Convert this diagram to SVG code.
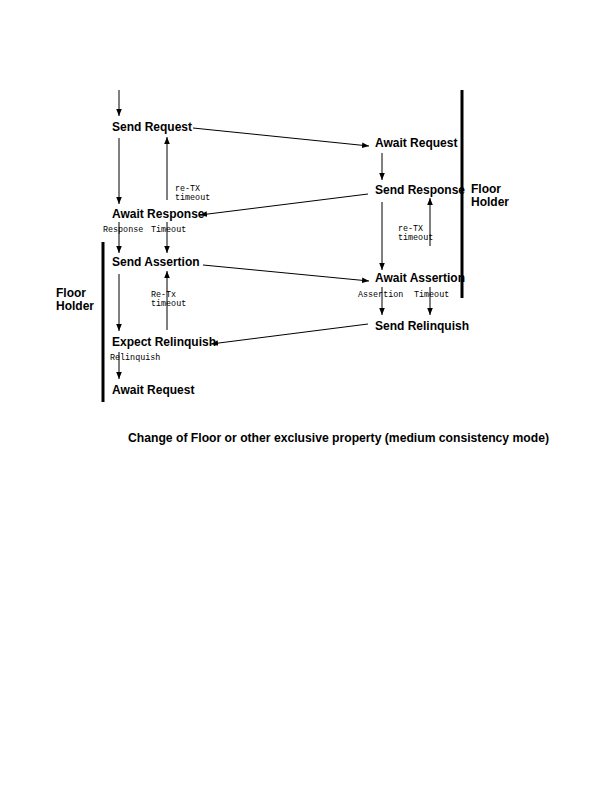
<svg xmlns="http://www.w3.org/2000/svg" width="612" height="792" viewBox="0 0 612 792">
<defs>
<marker id="ah" viewBox="0 0 10 10" refX="10" refY="5" markerWidth="7" markerHeight="7" markerUnits="userSpaceOnUse" orient="auto">
<path d="M0,1 L10,5 L0,9 z" fill="#000"/>
</marker>
</defs>
<style>
.st{font-family:"Liberation Sans",Arial,sans-serif;font-weight:bold;font-size:12px;fill:#000}
.lb{font-family:"Liberation Mono","Courier New",monospace;font-size:8.4px;fill:#000}
.ln{stroke:#000;stroke-width:1;fill:none}
.ar{stroke:#000;stroke-width:1;fill:none;marker-end:url(#ah)}
.bar{stroke:#000;stroke-width:3}
</style>
<rect width="612" height="792" fill="#fff"/>
<g id="connectors">
<line class="ar" x1="119" y1="90" x2="119" y2="116"/>
<line class="ar" x1="193" y1="128" x2="369" y2="146"/>
<line class="ar" x1="119" y1="138" x2="119" y2="204"/>
<line class="ar" x1="167" y1="200" x2="167" y2="137"/>
<line class="ar" x1="368" y1="194" x2="200" y2="215"/>
<line class="ar" x1="119" y1="222" x2="119" y2="253"/>
<line class="ar" x1="167" y1="222" x2="167" y2="253"/>
<line class="ar" x1="203" y1="265" x2="369" y2="281"/>
<line class="ar" x1="119" y1="274" x2="119" y2="331"/>
<line class="ar" x1="167" y1="330" x2="167" y2="271"/>
<line class="ar" x1="368" y1="324" x2="211" y2="344"/>
<line class="ar" x1="119" y1="352" x2="119" y2="379"/>
<line class="ar" x1="382" y1="153" x2="382" y2="180"/>
<line class="ar" x1="382" y1="202" x2="382" y2="270"/>
<line class="ar" x1="430" y1="246" x2="430" y2="198"/>
<line class="ar" x1="382" y1="287" x2="382" y2="315"/>
<line class="ar" x1="430" y1="287" x2="430" y2="315"/>
</g>
<g id="bars">
<line class="bar" x1="103" y1="242" x2="103" y2="402"/>
<line class="bar" x1="462" y1="90" x2="462" y2="298"/>
</g>
<g id="left-floor-holder"><text class="st" x="56" y="297">Floor</text><text class="st" x="56" y="310">Holder</text></g>
<g id="right-floor-holder"><text class="st" x="471" y="193">Floor</text><text class="st" x="471" y="206">Holder</text></g>
<g id="send-request"><text class="st" x="112" y="131">Send Request</text></g>
<g id="await-response"><text class="st" x="112" y="218">Await Response</text></g>
<g id="send-assertion"><text class="st" x="112" y="266">Send Assertion</text></g>
<g id="expect-relinquish"><text class="st" x="112" y="346">Expect Relinquish</text></g>
<g id="await-request-2"><text class="st" x="112" y="394">Await Request</text></g>
<g id="await-request"><text class="st" x="375" y="147">Await Request</text></g>
<g id="send-response"><text class="st" x="375" y="194">Send Response</text></g>
<g id="await-assertion"><text class="st" x="375" y="282">Await Assertion</text></g>
<g id="send-relinquish"><text class="st" x="375" y="330">Send Relinquish</text></g>
<g id="labels">
<text class="lb" x="175" y="191">re-TX</text>
<text class="lb" x="175" y="200">timeout</text>
<text class="lb" x="103" y="232">Response</text>
<text class="lb" x="151" y="232">Timeout</text>
<text class="lb" x="151" y="297">Re-Tx</text>
<text class="lb" x="151" y="306">timeout</text>
<text class="lb" x="110" y="360">Relinquish</text>
<text class="lb" x="398" y="231">re-TX</text>
<text class="lb" x="398" y="240">timeout</text>
<text class="lb" x="358" y="297">Assertion</text>
<text class="lb" x="414" y="297">Timeout</text>
</g>
<text class="st" x="128" y="442" textLength="421" lengthAdjust="spacingAndGlyphs">Change of Floor or other exclusive property (medium consistency mode)</text>
</svg>
